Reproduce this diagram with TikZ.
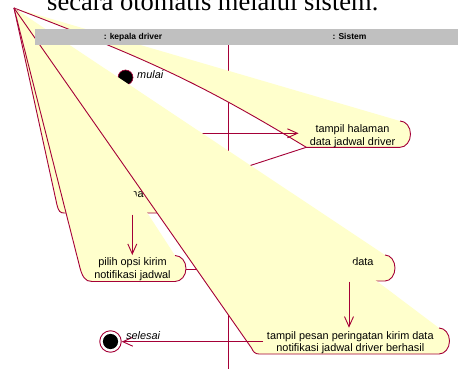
\documentclass[tikz,border=0pt]{standalone}
\usepackage{fontspec}
\setmainfont{Liberation Sans}
\newfontfamily\titlefont{Liberation Serif}
\usetikzlibrary{arrows.meta}
\definecolor{rl}{RGB}{165,0,55}
\definecolor{yf}{RGB}{255,255,204}
\definecolor{hg}{RGB}{192,192,192}
\tikzset{
  flow/.style={draw=rl, line width=0.9pt},
  shapefill/.style={fill=yf},
  conn/.style={draw=rl, line width=0.9pt, -{Straight Barb[length=10pt, width=9pt]}},
  txt/.style={inner sep=0pt, text=black, font=\fontsize{10.9}{13}\selectfont},
  itxt/.style={inner sep=0pt, text=black, font=\fontsize{10.9}{13}\selectfont\itshape},
  htxt/.style={inner sep=0pt, text=black, font=\fontsize{8.5}{10}\selectfont\bfseries},
  rcap/.style={}
}
\begin{document}
\begin{tikzpicture}[x=1pt,y=-1pt]
\useasboundingbox (0,0) rectangle (458,369);
\fill[white] (0,0) rectangle (458,369);
\coordinate (apex) at (14,8);

% swimlane divider
\coordinate (divtop) at (228,45);
\coordinate (divbot) at (228,369);
\draw[flow] (divtop) -- (divbot);

% initial state
\node[circle, fill=black, draw=rl, line width=0.6pt, minimum size=15pt, inner sep=0pt] (start) at (125.5,77.5) {};
\node[itxt, anchor=base west] (startlbl) at (137,79) {mulai};

% activity: tampil halaman data jadwal driver
\coordinate (a1tr) at (400,121);
\coordinate (a1bl) at (306.3,147.3);
\fill[shapefill] (apex) -- (a1tr) arc[start angle=90, end angle=-90, x radius=10.5pt, y radius=13.15pt]
   -- (a1bl) .. controls (200,83) and (150,60) .. (apex) -- cycle;
\draw[flow] (a1tr) arc[start angle=90, end angle=-90, x radius=10.5pt, y radius=13.15pt]
   -- (a1bl) .. controls (200,83) and (150,60) .. (apex);
\node[txt, anchor=base] (a1l1) at (352.5,132.5) {tampil halaman};
\node[txt, anchor=base] (a1l2) at (352.5,145) {data jadwal driver};

% connectors into / out of it
\coordinate (h1out) at (165,133.3);
\coordinate (a1in) at (298.5,133.3);
\draw[conn] (h1out) -- (a1in);
\coordinate (nain) at (175,190);
\draw[conn] (a1bl) -- (nain);

% activity: ... data
\coordinate (dtr) at (385,255);
\coordinate (dbl) at (300,281);
\fill[shapefill] (apex) -- (dtr) arc[start angle=90, end angle=-90, x radius=10pt, y radius=13pt] -- (dbl) -- cycle;
\draw[flow] (dtr) arc[start angle=90, end angle=-90, x radius=10pt, y radius=13pt] -- (dbl) -- (apex);
\node[txt, anchor=base east] (dlbl) at (373.7,265) {data};

% activity: ...na
\coordinate (ntr) at (160,187);
\coordinate (nbl) at (64,213);
\fill[shapefill] (apex) -- (ntr) arc[start angle=90, end angle=-90, x radius=10pt, y radius=13pt]
   -- (nbl) .. controls (60,213) and (58.5,211) .. (57,205) -- cycle;
\draw[flow] (ntr) arc[start angle=90, end angle=-90, x radius=10pt, y radius=13pt]
   -- (nbl) .. controls (60,213) and (58.5,211) .. (57,205) -- (apex);
\node[txt, anchor=base east] (nlbl) at (143.8,197.5) {na};

% activity: pilih opsi kirim notifikasi jadwal
\coordinate (ptr) at (175,255.5);
\coordinate (pbl) at (92,281.5);
\fill[shapefill] (apex) -- (ptr) arc[start angle=90, end angle=-90, x radius=11pt, y radius=13pt]
   -- (pbl) .. controls (85,281.5) and (82,277) .. (79,264) -- cycle;
\draw[flow] (ptr) arc[start angle=90, end angle=-90, x radius=11pt, y radius=13pt]
   -- (pbl) .. controls (85,281.5) and (82,277) .. (79,264) -- (apex);
\node[txt, anchor=base] (pl1) at (132.5,265.5) {pilih opsi kirim};
\node[txt, anchor=base] (pl2) at (132.5,278.5) {notifikasi jadwal};

\coordinate (nout) at (132.3,214.5);
\coordinate (pin) at (132.3,255);
\draw[conn] (nout) -- (pin);
\coordinate (pout) at (186,269);
\coordinate (din) at (300,269);
\draw[conn] (pout) -- (din);

% activity: tampil pesan peringatan ...
\coordinate (ttr) at (439,328);
\coordinate (tbl) at (259,354);
\fill[shapefill] (apex) -- (ttr) arc[start angle=90, end angle=-90, x radius=10.5pt, y radius=13pt]
   -- (tbl) .. controls (255,354) and (253,351.5) .. (251.5,348) -- cycle;
\draw[flow] (ttr) arc[start angle=90, end angle=-90, x radius=10.5pt, y radius=13pt]
   -- (tbl) .. controls (255,354) and (253,351.5) .. (251.5,348) -- (apex);
\node[txt, anchor=base] (tl1) at (350.3,339.3) {tampil pesan peringatan kirim data};
\node[txt, anchor=base] (tl2) at (350.3,351.7) {notifikasi jadwal driver berhasil};

\coordinate (dout) at (349,281.7);
\coordinate (tin) at (349,327.7);
\draw[conn] (dout) -- (tin);

% final state
\node[circle, draw=rl, fill=white, line width=0.9pt, minimum size=21.5pt, inner sep=0pt] (final) at (110.5,341.5) {};
\fill[black] (final.center) circle[radius=7.6pt];
\coordinate (tout) at (263,341.7);
\coordinate (fin) at (121.7,341.7);
\draw[conn] (tout) -- (fin);
\node[itxt, anchor=base west] (finlbl) at (126,339.3) {selesai};

% swimlane header
\fill[hg] (35,29) rectangle (458,45);
\node[htxt, anchor=base] (lane1) at (133,39.7) {: kepala driver};
\node[htxt, anchor=base] (lane2) at (349.5,39.7) {: Sistem};

% clipped title line
\node[inner sep=0pt, anchor=base west, font=\titlefont\fontsize{26.5}{30}\selectfont] (title) at (47,10.7) {secara otomatis melalui sistem.};
\end{tikzpicture}
\end{document}
